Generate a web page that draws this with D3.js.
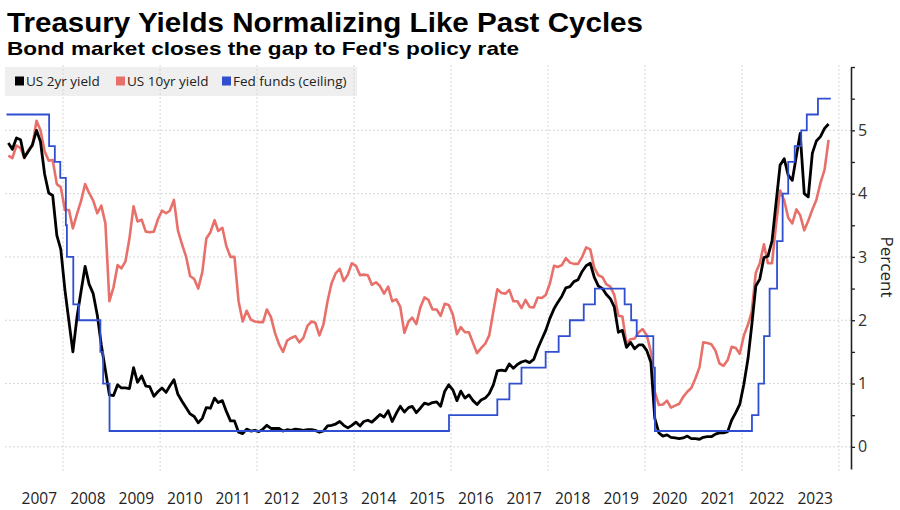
<!DOCTYPE html>
<html>
<head>
<meta charset="utf-8">
<script src="https://cdn.jsdelivr.net/npm/d3@7"></script>
<style>
  body { margin: 0; background: #fff; }
  svg { display: block; }
</style>
</head>
<body>
<svg id="chart"></svg>
<script>
// monthly readings, Nov 2006 .. Oct 2023 (mid-month)
const yield2y = [
  4.80, 4.70,
  4.88, 4.85, 4.57, 4.67, 4.77, 5.00, 4.82, 4.31, 4.01, 3.97, 3.34, 3.12,
  2.48, 1.97, 1.50, 2.05, 2.45, 2.85, 2.57, 2.42, 2.08, 1.61, 1.21, 0.82,
  0.81, 0.98, 0.93, 0.93, 0.92, 1.25, 1.02, 1.12, 0.96, 0.95, 0.80, 0.87,
  0.93, 0.86, 0.96, 1.06, 0.83, 0.72, 0.62, 0.52, 0.48, 0.38, 0.45, 0.62,
  0.61, 0.77, 0.70, 0.73, 0.56, 0.41, 0.41, 0.23, 0.21, 0.28, 0.25, 0.26,
  0.24, 0.28, 0.34, 0.29, 0.29, 0.29, 0.25, 0.27, 0.26, 0.28, 0.27, 0.26,
  0.27, 0.27, 0.26, 0.23, 0.25, 0.33, 0.34, 0.36, 0.40, 0.34, 0.30, 0.34,
  0.39, 0.33, 0.40, 0.42, 0.39, 0.45, 0.51, 0.47, 0.57, 0.40, 0.53, 0.64,
  0.55, 0.62, 0.64, 0.54, 0.61, 0.69, 0.67, 0.70, 0.71, 0.64, 0.88, 0.98,
  0.90, 0.73, 0.88, 0.77, 0.82, 0.73, 0.67, 0.74, 0.77, 0.84, 0.98, 1.20,
  1.21, 1.20, 1.31, 1.24, 1.30, 1.34, 1.36, 1.33, 1.38, 1.55, 1.70, 1.84,
  2.03, 2.18, 2.28, 2.38, 2.51, 2.53, 2.61, 2.64, 2.77, 2.86, 2.90, 2.68,
  2.54, 2.50, 2.41, 2.34, 2.21, 1.81, 1.84, 1.57, 1.65, 1.55, 1.61, 1.61,
  1.52, 1.33, 0.45, 0.22, 0.17, 0.19, 0.15, 0.14, 0.13, 0.14, 0.17, 0.13,
  0.13, 0.12, 0.15, 0.16, 0.16, 0.20, 0.22, 0.22, 0.24, 0.42, 0.54, 0.67,
  0.99, 1.39, 1.91, 2.54, 2.65, 2.99, 3.01, 3.25, 3.86, 4.45, 4.55, 4.29,
  4.21, 4.60, 4.95, 4.00, 3.95, 4.64, 4.83, 4.90, 5.03, 5.10
];

const yield10y = [
  4.60, 4.56,
  4.76, 4.72, 4.56, 4.69, 4.75, 5.15, 5.00, 4.67, 4.52, 4.53, 4.15, 4.10,
  3.74, 3.74, 3.45, 3.68, 3.88, 4.15, 4.01, 3.89, 3.69, 3.81, 3.53, 2.30,
  2.52, 2.87, 2.82, 2.93, 3.29, 3.80, 3.56, 3.59, 3.40, 3.39, 3.40, 3.59,
  3.73, 3.69, 3.73, 3.90, 3.42, 3.20, 3.01, 2.70, 2.65, 2.50, 2.76, 3.29,
  3.39, 3.58, 3.41, 3.46, 3.17, 3.00, 3.00, 2.30, 1.98, 2.15, 2.01, 1.98,
  1.97, 1.97, 2.17, 2.05, 1.80, 1.62, 1.50, 1.68, 1.72, 1.75, 1.65, 1.72,
  1.91, 1.98, 1.96, 1.76, 1.93, 2.30, 2.58, 2.74, 2.81, 2.62, 2.72, 2.90,
  2.86, 2.71, 2.72, 2.71, 2.56, 2.60, 2.54, 2.42, 2.53, 2.30, 2.33, 2.21,
  1.80, 1.98, 2.04, 1.94, 2.20, 2.36, 2.32, 2.17, 2.17, 2.07, 2.26, 2.24,
  2.09, 1.78, 1.89, 1.81, 1.81, 1.64, 1.48, 1.56, 1.63, 1.76, 2.14, 2.49,
  2.43, 2.42, 2.48, 2.30, 2.30, 2.19, 2.32, 2.21, 2.20, 2.36, 2.35, 2.40,
  2.58, 2.86, 2.84, 2.87, 2.98, 2.91, 2.89, 2.89, 3.00, 3.15, 3.12, 2.83,
  2.71, 2.68, 2.57, 2.53, 2.40, 2.07, 2.06, 1.63, 1.70, 1.71, 1.81, 1.86,
  1.76, 1.50, 0.87, 0.66, 0.67, 0.73, 0.62, 0.65, 0.68, 0.79, 0.87, 0.93,
  1.08, 1.26, 1.65, 1.64, 1.62, 1.52, 1.32, 1.28, 1.37, 1.58, 1.56, 1.47,
  1.76, 1.93, 2.13, 2.75, 2.90, 3.20, 2.90, 2.90, 3.52, 4.05, 3.89, 3.62,
  3.53, 3.75, 3.66, 3.42, 3.57, 3.75, 3.90, 4.17, 4.38, 4.85
];

// fed funds target ceiling, value holds from each date on
const fedDates = [
  "2006-11-01", "2007-09-18", "2007-10-31", "2007-12-11", "2008-01-22",
  "2008-01-30", "2008-03-18", "2008-04-30", "2008-10-08", "2008-10-29",
  "2008-12-16", "2015-12-17", "2016-12-15", "2017-03-16", "2017-06-15",
  "2017-12-14", "2018-03-22", "2018-06-14", "2018-09-27", "2018-12-20",
  "2019-08-01", "2019-09-19", "2019-10-31", "2020-03-04", "2020-03-16",
  "2022-03-17", "2022-05-05", "2022-06-16", "2022-07-28", "2022-09-22",
  "2022-11-03", "2022-12-15", "2023-02-02", "2023-03-23", "2023-05-04",
  "2023-07-27", "2023-11-01"
];
const fedRate = [
  5.25, 4.75, 4.5, 4.25, 3.5, 3.0, 2.25, 2.0, 1.5, 1.0,
  0.25, 0.5, 0.75, 1.0, 1.25, 1.5, 1.75, 2.0, 2.25, 2.5,
  2.25, 2.0, 1.75, 1.25, 0.25, 0.5, 1.0, 1.75, 2.5, 3.25,
  4.0, 4.5, 4.75, 5.0, 5.25, 5.5, 5.5
];

const yearLabels = d3.range(2007, 2024);
const yTicks = [0, 1, 2, 3, 4, 5];

const seriesNames = ["US 2yr yield", "US 10yr yield", "Fed funds (ceiling)"];
const colors = ["#000000", "#e8706a", "#2f4fd0"];

const width = 900;
const height = 510;
const plotLeft = 0;
const plotRight = 851;
const plotTop = 67;
const plotBottom = 469;

const parse = d3.timeParse("%Y-%m-%d");
const monthDates = yield2y.map((d, i) => new Date(2006, 10 + i, 15));

const svg = d3.select("#chart").attr("width", width).attr("height", height);
svg.append("rect").attr("width", width).attr("height", height).attr("fill", "#fff");

const x = d3.scaleTime()
  .domain([new Date(2006, 8, 13), new Date(2024, 3, 1)])
  .range([plotLeft, plotRight]);

const y = d3.scaleLinear()
  .domain([-0.35, 6])
  .range([plotBottom, plotTop]);

// legend background sits under the grid
svg.append("rect")
  .attr("x", 5).attr("y", 67).attr("width", 352).attr("height", 29)
  .attr("fill", "#efefef");

// grid
svg.append("g")
  .selectAll("line")
  .data(yTicks)
  .join("line")
  .attr("x1", 5).attr("x2", plotRight)
  .attr("y1", (d) => y(d)).attr("y2", (d) => y(d))
  .attr("stroke", "#d6d6d6")
  .attr("stroke-dasharray", "2,2");

const gridYears = d3.range(2008, 2025, 2).map((yr) => new Date(yr, 0, 1));
svg.append("g")
  .selectAll("line")
  .data(gridYears)
  .join("line")
  .attr("x1", (d) => x(d)).attr("x2", (d) => x(d))
  .attr("y1", 65).attr("y2", 471)
  .attr("stroke", "#d6d6d6")
  .attr("stroke-dasharray", "2,2");

// lines
const line = d3.line()
  .x((d) => x(d[0]))
  .y((d) => y(d[1]));

const stepLine = d3.line()
  .x((d) => x(d[0]))
  .y((d) => y(d[1]))
  .curve(d3.curveStepAfter);

svg.append("path")
  .datum(monthDates.map((d, i) => [d, yield10y[i]]))
  .attr("fill", "none")
  .attr("stroke", colors[1])
  .attr("stroke-width", 2.6)
  .attr("stroke-linejoin", "round")
  .attr("d", line);

svg.append("path")
  .datum(monthDates.map((d, i) => [d, yield2y[i]]))
  .attr("fill", "none")
  .attr("stroke", colors[0])
  .attr("stroke-width", 2.8)
  .attr("stroke-linejoin", "round")
  .attr("d", line);

svg.append("path")
  .datum(fedDates.map((d, i) => [parse(d), fedRate[i]]))
  .attr("fill", "none")
  .attr("stroke", colors[2])
  .attr("stroke-width", 1.8)
  .attr("d", stepLine);

// right axis
const yAxis = d3.axisRight(y)
  .tickValues(d3.range(0, 6.01, 0.5))
  .tickFormat((d) => (d % 1 === 0 && d < 6 ? d : ""))
  .tickSize(4)
  .tickSizeOuter(0)
  .tickPadding(3);

const yAxisG = svg.append("g")
  .attr("transform", `translate(${plotRight}, 0)`)
  .call(yAxis);
yAxisG.select(".domain").attr("stroke", "#222").attr("stroke-width", 1.6);
yAxisG.selectAll(".tick line").attr("stroke", "#222").attr("stroke-width", 1.3);
yAxisG.selectAll(".tick text")
  .attr("font-family", "Open Sans")
  .attr("font-size", 16)
  .attr("fill", "#333");

svg.append("text")
  .attr("transform", "translate(881, 267) rotate(90)")
  .attr("text-anchor", "middle")
  .attr("font-family", "Open Sans")
  .attr("font-size", 17)
  .attr("fill", "#222")
  .text("Percent");

// bottom year labels, centred on each year
const xAxis = d3.axisBottom(x)
  .tickValues(yearLabels.map((yr) => new Date(yr, 6, 2)))
  .tickFormat(d3.timeFormat("%Y"))
  .tickSize(0)
  .tickPadding(0);

const xAxisG = svg.append("g")
  .attr("transform", "translate(0, 493)")
  .call(xAxis);
xAxisG.select(".domain").remove();
xAxisG.selectAll(".tick text")
  .attr("font-family", "Open Sans")
  .attr("font-size", 15.5)
  .attr("fill", "#222");

// legend
const legendX = [15, 116, 222];
const legend = svg.append("g")
  .selectAll("g")
  .data(seriesNames)
  .join("g")
  .attr("transform", (d, i) => `translate(${legendX[i]}, 0)`);
legend.append("rect")
  .attr("y", 76.5).attr("width", 9).attr("height", 9)
  .attr("fill", (d, i) => colors[i]);
legend.append("text")
  .attr("x", 11).attr("y", 86)
  .attr("font-family", "Open Sans")
  .attr("font-size", 13.5)
  .attr("fill", "#222")
  .text((d) => d);

// titles
svg.append("text")
  .attr("x", 7).attr("y", 32)
  .attr("font-family", "Liberation Sans")
  .attr("font-weight", "bold")
  .attr("font-size", 27)
  .attr("textLength", 636)
  .attr("lengthAdjust", "spacingAndGlyphs")
  .text("Treasury Yields Normalizing Like Past Cycles");

svg.append("text")
  .attr("x", 7).attr("y", 55)
  .attr("font-family", "Liberation Sans")
  .attr("font-weight", "bold")
  .attr("font-size", 18.5)
  .attr("textLength", 512)
  .attr("lengthAdjust", "spacingAndGlyphs")
  .text("Bond market closes the gap to Fed's policy rate");
</script>
</body>
</html>
